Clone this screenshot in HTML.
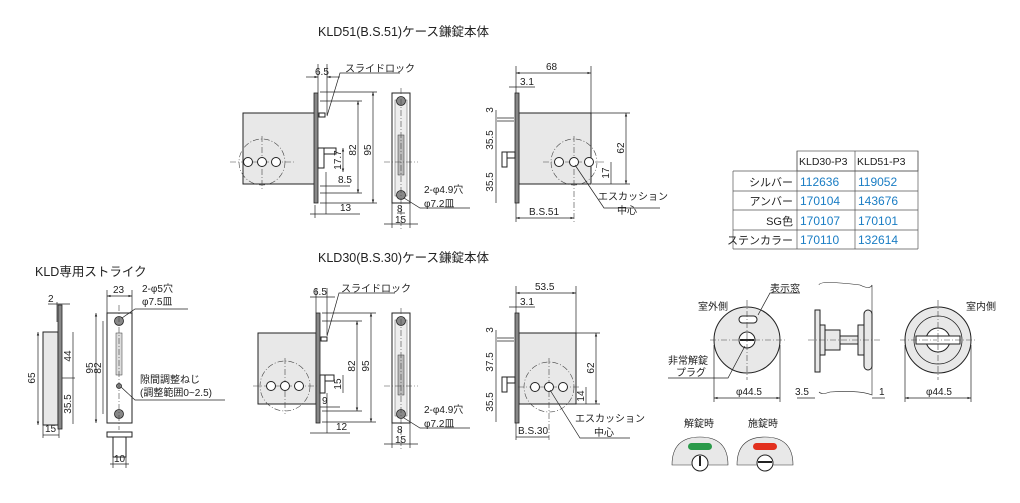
<!DOCTYPE html>
<html><head><meta charset="utf-8"><style>
html,body{margin:0;padding:0;background:#fff;}
svg{display:block;font-family:"Liberation Sans","Noto Sans CJK JP",sans-serif;}
.t{font-size:10px;fill:#222}
.h{font-size:12.5px;fill:#222}
.b{fill:#e8e8e8;stroke:#222;stroke-width:1}
.l{stroke:#222;stroke-width:0.7;fill:none}
.c{stroke:#444;stroke-width:0.6;fill:none;stroke-dasharray:6 2 1 2}
.w{fill:#fff;stroke:#222;stroke-width:1}
.p{fill:#888;stroke:#222;stroke-width:0.8}
</style></head><body>
<svg width="1020" height="503" viewBox="0 0 1020 503">
<defs>
<marker id="a" viewBox="0 0 6 6" refX="6" refY="3" markerWidth="5" markerHeight="5" orient="auto-start-reverse"><path d="M0,1 L6,3 L0,5z" fill="#222"/></marker>
<g id="front51">
</g>
</defs>

<text x="318" y="36" class="h">KLD51(B.S.51)ケース鎌錠本体</text>
<text x="318" y="262" class="h">KLD30(B.S.30)ケース鎌錠本体</text>
<text x="35" y="276" class="h">KLD専用ストライク</text>

<!-- ===== TOP FRONT ===== -->
<rect x="243" y="113" width="72" height="71" class="b"/>
<rect x="314" y="93" width="4" height="110" class="p"/>
<circle cx="262" cy="162" r="23" class="c"/>
<line x1="230" y1="162" x2="296" y2="162" class="c"/><line x1="262" y1="136" x2="262" y2="190" class="c"/>
<circle cx="248" cy="162" r="4.5" class="w"/><circle cx="262" cy="162" r="4.5" class="w"/><circle cx="276" cy="162" r="4.5" class="w"/>
<rect x="318" y="148" width="18" height="6" class="w"/><rect x="318" y="148" width="6" height="20" class="w"/>
<rect x="319" y="113" width="6" height="4" class="w"/>
<line x1="318" y1="64" x2="318" y2="93" class="l"/><line x1="327" y1="64" x2="327" y2="115" class="l"/>
<line x1="306" y1="77" x2="318" y2="77" class="l" marker-end="url(#a)"/><line x1="340" y1="77" x2="327" y2="77" class="l" marker-end="url(#a)"/>
<text x="315" y="75" class="t">6.5</text>
<polyline points="327,116 340,73 400,73" class="l"/><text x="345" y="72" class="t">スライドロック</text>
<line x1="320" y1="101" x2="362" y2="101" class="l"/><line x1="320" y1="193" x2="362" y2="193" class="l"/>
<line x1="358" y1="101" x2="358" y2="193" class="l" marker-start="url(#a)" marker-end="url(#a)"/>
<text x="356" y="150" class="t" transform="rotate(-90 356 150)" text-anchor="middle">82</text>
<line x1="320" y1="92" x2="377" y2="92" class="l"/><line x1="320" y1="203" x2="377" y2="203" class="l"/>
<line x1="373" y1="92" x2="373" y2="203" class="l" marker-start="url(#a)" marker-end="url(#a)"/>
<text x="371" y="150" class="t" transform="rotate(-90 371 150)" text-anchor="middle">95</text>
<line x1="343" y1="148" x2="343" y2="172" class="l" marker-start="url(#a)" marker-end="url(#a)"/>
<text x="341" y="160" class="t" transform="rotate(-90 341 160)" text-anchor="middle">17.7</text>
<line x1="320" y1="186" x2="350" y2="186" class="l"/><text x="338" y="183" class="t">8.5</text>
<line x1="326" y1="172" x2="326" y2="214" class="l"/>
<line x1="310" y1="214" x2="360" y2="214" class="l"/><line x1="315" y1="205" x2="315" y2="218" class="l"/>
<text x="340" y="211" class="t">13</text>
<!-- top side strip -->
<rect x="392" y="93" width="18" height="110" class="w"/>
<rect x="395" y="100" width="12" height="96" fill="#eee" stroke="#555" stroke-width="0.5"/>
<circle cx="401" cy="101" r="4.5" class="p"/><circle cx="401" cy="195" r="4.5" class="p"/>
<rect x="398" y="135" width="6" height="40" fill="#bbb" stroke="#333" stroke-width="0.5"/>
<line x1="384" y1="162" x2="418" y2="162" class="c"/><line x1="401" y1="88" x2="401" y2="230" class="c"/>
<line x1="392" y1="203" x2="392" y2="228" class="l"/><line x1="410" y1="203" x2="410" y2="228" class="l"/>
<line x1="397" y1="213" x2="405" y2="213" class="l"/><text x="397" y="212" class="t">8</text>
<line x1="384" y1="224" x2="418" y2="224" class="l"/><text x="395" y="223" class="t">15</text>
<polyline points="404,198 420,208 470,208" class="l"/>
<text x="424" y="193" class="t">2-φ4.9穴</text><text x="424" y="207" class="t">φ7.2皿</text>
<!-- top right -->
<rect x="519" y="113" width="72" height="71" class="b"/>
<rect x="515" y="93" width="4" height="110" class="p"/>
<circle cx="574" cy="162" r="23" class="c"/>
<line x1="543" y1="162" x2="605" y2="162" class="c"/><line x1="574" y1="136" x2="574" y2="222" class="c"/>
<circle cx="559" cy="162" r="4.5" class="w"/><circle cx="574" cy="162" r="4.5" class="w"/><circle cx="589" cy="162" r="4.5" class="w"/>
<rect x="502" y="152" width="13" height="6" class="w"/><rect x="502" y="152" width="5" height="15" class="w"/>
<line x1="497" y1="118" x2="514" y2="118" class="l"/><line x1="497" y1="121" x2="514" y2="121" class="l"/>
<line x1="516" y1="66" x2="516" y2="93" class="l"/><line x1="591" y1="66" x2="591" y2="113" class="l"/>
<line x1="516" y1="73" x2="591" y2="73" class="l" marker-start="url(#a)" marker-end="url(#a)"/><text x="546" y="70" class="t">68</text>
<line x1="509" y1="87" x2="535" y2="87" class="l"/><text x="520" y="85" class="t">3.1</text>
<line x1="496" y1="110" x2="496" y2="203" class="l"/>
<text x="493" y="110" class="t" transform="rotate(-90 493 110)" text-anchor="middle">3</text>
<text x="493" y="140" class="t" transform="rotate(-90 493 140)" text-anchor="middle">35.5</text>
<text x="493" y="182" class="t" transform="rotate(-90 493 182)" text-anchor="middle">35.5</text>
<line x1="591" y1="113" x2="630" y2="113" class="l"/><line x1="592" y1="184" x2="630" y2="184" class="l"/>
<line x1="626" y1="113" x2="626" y2="184" class="l" marker-start="url(#a)" marker-end="url(#a)"/>
<text x="624" y="148" class="t" transform="rotate(-90 624 148)" text-anchor="middle">62</text>
<line x1="611" y1="162" x2="611" y2="184" class="l"/>
<text x="609" y="173" class="t" transform="rotate(-90 609 173)" text-anchor="middle">17</text>
<line x1="516" y1="203" x2="516" y2="222" class="l"/>
<line x1="516" y1="218" x2="574" y2="218" class="l" marker-start="url(#a)" marker-end="url(#a)"/><text x="529" y="215" class="t">B.S.51</text>
<polyline points="575,165 604,208 660,208" class="l"/>
<text x="598" y="200" class="t">エスカッション</text><text x="617" y="214" class="t">中心</text>

<!-- ===== BOTTOM FRONT ===== -->
<rect x="258" y="333" width="58" height="71" class="b"/>
<rect x="316" y="313" width="4" height="110" class="p"/>
<circle cx="285" cy="386" r="25" class="c"/>
<line x1="253" y1="386" x2="318" y2="386" class="c"/><line x1="285" y1="358" x2="285" y2="414" class="c"/>
<circle cx="271" cy="386" r="4.5" class="w"/><circle cx="285" cy="386" r="4.5" class="w"/><circle cx="299" cy="386" r="4.5" class="w"/>
<rect x="320" y="375" width="14" height="6" class="w"/><rect x="320" y="375" width="5" height="18" class="w"/>
<rect x="321" y="337" width="6" height="4" class="w"/>
<line x1="316" y1="288" x2="316" y2="313" class="l"/><line x1="327" y1="288" x2="327" y2="335" class="l"/>
<line x1="310" y1="297" x2="335" y2="297" class="l"/><text x="313" y="295" class="t">6.5</text>
<polyline points="327,336 339,293 395,293" class="l"/><text x="341" y="292" class="t">スライドロック</text>
<line x1="322" y1="321" x2="362" y2="321" class="l"/><line x1="322" y1="411" x2="362" y2="411" class="l"/>
<line x1="357" y1="321" x2="357" y2="411" class="l" marker-start="url(#a)" marker-end="url(#a)"/>
<text x="355" y="366" class="t" transform="rotate(-90 355 366)" text-anchor="middle">82</text>
<line x1="322" y1="313" x2="376" y2="313" class="l"/><line x1="322" y1="422" x2="376" y2="422" class="l"/>
<line x1="371" y1="313" x2="371" y2="422" class="l" marker-start="url(#a)" marker-end="url(#a)"/>
<text x="369" y="366" class="t" transform="rotate(-90 369 366)" text-anchor="middle">95</text>
<line x1="343" y1="375" x2="343" y2="393" class="l"/>
<text x="341" y="384" class="t" transform="rotate(-90 341 384)" text-anchor="middle">15</text>
<line x1="320" y1="407" x2="340" y2="407" class="l"/><text x="322" y="404" class="t">9</text>
<line x1="327" y1="393" x2="327" y2="433" class="l"/>
<line x1="310" y1="433" x2="350" y2="433" class="l"/><text x="336" y="430" class="t">12</text>
<!-- bottom side strip -->
<rect x="392" y="313" width="18" height="110" class="w"/>
<rect x="395" y="320" width="12" height="96" fill="#eee" stroke="#555" stroke-width="0.5"/>
<circle cx="401" cy="321" r="4.5" class="p"/><circle cx="401" cy="414" r="4.5" class="p"/>
<rect x="398" y="355" width="6" height="40" fill="#bbb" stroke="#333" stroke-width="0.5"/>
<line x1="384" y1="386" x2="418" y2="386" class="c"/><line x1="401" y1="308" x2="401" y2="450" class="c"/>
<line x1="392" y1="423" x2="392" y2="448" class="l"/><line x1="410" y1="423" x2="410" y2="448" class="l"/>
<text x="397" y="433" class="t">8</text>
<line x1="384" y1="444" x2="418" y2="444" class="l"/><text x="395" y="443" class="t">15</text>
<polyline points="404,418 420,428 470,428" class="l"/>
<text x="424" y="413" class="t">2-φ4.9穴</text><text x="424" y="427" class="t">φ7.2皿</text>
<!-- bottom right -->
<rect x="519" y="333" width="57" height="71" class="b"/>
<rect x="515" y="313" width="4" height="110" class="p"/>
<circle cx="549" cy="387" r="25" class="c"/>
<line x1="518" y1="387" x2="580" y2="387" class="c"/><line x1="549" y1="358" x2="549" y2="440" class="c"/>
<circle cx="535" cy="387" r="4.5" class="w"/><circle cx="549" cy="387" r="4.5" class="w"/><circle cx="563" cy="387" r="4.5" class="w"/>
<rect x="502" y="377" width="13" height="6" class="w"/><rect x="502" y="377" width="5" height="15" class="w"/>
<line x1="497" y1="338" x2="514" y2="338" class="l"/><line x1="497" y1="341" x2="514" y2="341" class="l"/>
<line x1="516" y1="286" x2="516" y2="313" class="l"/><line x1="576" y1="286" x2="576" y2="333" class="l"/>
<line x1="516" y1="293" x2="576" y2="293" class="l" marker-start="url(#a)" marker-end="url(#a)"/><text x="535" y="290" class="t">53.5</text>
<line x1="509" y1="307" x2="535" y2="307" class="l"/><text x="520" y="305" class="t">3.1</text>
<line x1="496" y1="330" x2="496" y2="422" class="l"/>
<text x="493" y="330" class="t" transform="rotate(-90 493 330)" text-anchor="middle">3</text>
<text x="493" y="362" class="t" transform="rotate(-90 493 362)" text-anchor="middle">37.5</text>
<text x="493" y="402" class="t" transform="rotate(-90 493 402)" text-anchor="middle">35.5</text>
<line x1="576" y1="333" x2="600" y2="333" class="l"/><line x1="576" y1="404" x2="600" y2="404" class="l"/>
<line x1="596" y1="333" x2="596" y2="404" class="l" marker-start="url(#a)" marker-end="url(#a)"/>
<text x="594" y="368" class="t" transform="rotate(-90 594 368)" text-anchor="middle">62</text>
<line x1="586" y1="387" x2="586" y2="404" class="l"/>
<text x="584" y="396" class="t" transform="rotate(-90 584 396)" text-anchor="middle">14</text>
<line x1="516" y1="423" x2="516" y2="440" class="l"/>
<line x1="516" y1="437" x2="549" y2="437" class="l"/><text x="518" y="434" class="t">B.S.30</text>
<polyline points="550,390 580,438 630,438" class="l"/>
<text x="575" y="422" class="t">エスカッション</text><text x="594" y="436" class="t">中心</text>

<!-- ===== STRIKE ===== -->
<rect x="43" y="332" width="15" height="93" class="b"/>
<rect x="58" y="305" width="4" height="124" class="p"/>
<line x1="57" y1="302" x2="57" y2="322" class="l"/><line x1="48" y1="304" x2="70" y2="304" class="l"/>
<text x="48" y="302" class="t">2</text>
<line x1="38" y1="332" x2="38" y2="425" class="l" marker-start="url(#a)" marker-end="url(#a)"/>
<text x="35" y="378" class="t" transform="rotate(-90 35 378)" text-anchor="middle">65</text>
<line x1="62" y1="378" x2="75" y2="378" class="l"/>
<line x1="73" y1="332" x2="73" y2="424" class="l"/>
<text x="71" y="356" class="t" transform="rotate(-90 71 356)" text-anchor="middle">44</text>
<text x="71" y="404" class="t" transform="rotate(-90 71 404)" text-anchor="middle">35.5</text>
<line x1="43" y1="425" x2="43" y2="438" class="l"/><line x1="59" y1="429" x2="59" y2="438" class="l"/>
<line x1="43" y1="435" x2="59" y2="435" class="l"/><text x="45" y="432" class="t">15</text>
<rect x="107" y="313" width="25" height="110" class="w"/>
<circle cx="119" cy="321" r="4.5" class="p"/><circle cx="119" cy="414" r="4.5" class="p"/><circle cx="119" cy="386" r="2.5" class="p"/>
<rect x="116" y="333" width="6" height="42" fill="#ddd" stroke="#333" stroke-width="0.5"/>
<line x1="119" y1="305" x2="119" y2="430" class="c"/>
<line x1="107" y1="290" x2="107" y2="313" class="l"/><line x1="132" y1="290" x2="132" y2="313" class="l"/>
<line x1="107" y1="296" x2="132" y2="296" class="l" marker-start="url(#a)" marker-end="url(#a)"/><text x="113" y="293" class="t">23</text>
<line x1="96" y1="313" x2="96" y2="423" class="l" marker-start="url(#a)" marker-end="url(#a)"/>
<text x="93" y="368" class="t" transform="rotate(-90 93 368)" text-anchor="middle">95</text>
<line x1="103" y1="321" x2="103" y2="414" class="l"/>
<text x="101" y="368" class="t" transform="rotate(-90 101 368)" text-anchor="middle">82</text>
<text x="142" y="292" class="t">2-φ5穴</text><text x="142" y="305" class="t">φ7.5皿</text>
<polyline points="122,318 135,309 188,309" class="l"/>
<text x="140" y="383" class="t">隙間調整ねじ</text><text x="140" y="396" class="t">(調整範囲0~2.5)</text>
<polyline points="121,387 135,400 225,400" class="l"/>
<rect x="107" y="432" width="25" height="5" class="w"/><rect x="113" y="437" width="13" height="20" class="w"/>
<line x1="113" y1="457" x2="113" y2="468" class="l"/><line x1="126" y1="457" x2="126" y2="468" class="l"/>
<line x1="110" y1="464" x2="129" y2="464" class="l"/><text x="114" y="462" class="t">10</text>

<!-- ===== TABLE ===== -->
<g font-size="11" fill="#222">
<rect x="797" y="151" width="121" height="20" fill="none" stroke="#555" stroke-width="0.7"/>
<line x1="733" y1="171" x2="918" y2="171" stroke="#555" stroke-width="0.7"/>
<line x1="733" y1="191" x2="918" y2="191" stroke="#555" stroke-width="0.7"/>
<line x1="733" y1="210" x2="918" y2="210" stroke="#555" stroke-width="0.7"/>
<line x1="733" y1="230" x2="918" y2="230" stroke="#555" stroke-width="0.7"/>
<line x1="733" y1="249" x2="918" y2="249" stroke="#555" stroke-width="0.7"/>
<line x1="733" y1="171" x2="733" y2="249" stroke="#555" stroke-width="0.7"/>
<line x1="797" y1="151" x2="797" y2="249" stroke="#555" stroke-width="0.7"/>
<line x1="855" y1="151" x2="855" y2="249" stroke="#555" stroke-width="0.7"/>
<line x1="918" y1="151" x2="918" y2="249" stroke="#555" stroke-width="0.7"/>
<text x="799" y="165" font-size="10.5">KLD30-P3</text><text x="857" y="165" font-size="10.5">KLD51-P3</text>
<text x="793" y="186" text-anchor="end">シルバー</text><text x="793" y="205" text-anchor="end">アンバー</text>
<text x="793" y="225" text-anchor="end">SG色</text><text x="793" y="244" text-anchor="end">ステンカラー</text>
<g fill="#1a7dc4" font-size="12">
<text x="800" y="186">112636</text><text x="858" y="186">119052</text>
<text x="800" y="205">170104</text><text x="858" y="205">143676</text>
<text x="800" y="225">170107</text><text x="858" y="225">170101</text>
<text x="800" y="244">170110</text><text x="858" y="244">132614</text>
</g></g>

<!-- ===== ESCUTCHEON ===== -->
<circle cx="747" cy="340" r="33" class="b"/>
<rect x="739" y="316" width="18" height="7" rx="3.5" class="w"/>
<circle cx="747" cy="340" r="8" class="w"/><line x1="740" y1="340" x2="754" y2="340" stroke="#222" stroke-width="2"/>
<line x1="710" y1="340" x2="785" y2="340" class="c"/><line x1="747" y1="300" x2="747" y2="380" class="c"/>
<line x1="714" y1="345" x2="714" y2="402" class="l"/><line x1="780" y1="345" x2="780" y2="402" class="l"/>
<line x1="714" y1="398" x2="780" y2="398" class="l" marker-start="url(#a)" marker-end="url(#a)"/><text x="736" y="395" class="t">φ44.5</text>
<text x="698" y="310" class="t">室外側</text>
<polyline points="758,315 770,293 800,293" class="l"/><text x="770" y="292" class="t">表示窓</text>
<text x="668" y="364" class="t" font-size="9">非常解錠</text><text x="676" y="376" class="t" font-size="9">プラグ</text>
<polyline points="668,378 728,378 745,346" class="l"/>
<!-- side -->
<path d="M819,285 Q819,280 860,285 Q870,290 872,285 L872,395 Q860,390 830,392 Q822,395 819,392" fill="none" stroke="#222" stroke-width="0.6"/>
<rect x="815" y="310" width="5" height="62" class="b"/><rect x="820" y="325" width="5" height="30" class="b"/>
<rect x="825" y="330" width="15" height="20" class="b"/><rect x="840" y="336" width="22" height="8" class="b"/>
<rect x="858" y="325" width="6" height="30" class="b"/><rect x="864" y="310" width="8" height="60" rx="4" class="b"/>
<line x1="808" y1="340" x2="880" y2="340" class="c"/>
<line x1="797" y1="398" x2="815" y2="398" class="l"/><line x1="872" y1="398" x2="885" y2="398" class="l"/>
<text x="795" y="395" class="t">3.5</text><text x="879" y="395" class="t">1</text>
<!-- inside -->
<circle cx="938" cy="340" r="33" class="b"/><circle cx="938" cy="340" r="24" fill="none" stroke="#222" stroke-width="0.8"/>
<circle cx="938" cy="340" r="12" class="w"/><rect x="916" y="336" width="44" height="8" class="w"/>
<line x1="900" y1="340" x2="977" y2="340" class="c"/><line x1="938" y1="300" x2="938" y2="380" class="c"/>
<line x1="905" y1="345" x2="905" y2="402" class="l"/><line x1="971" y1="345" x2="971" y2="402" class="l"/>
<line x1="905" y1="398" x2="971" y2="398" class="l" marker-start="url(#a)" marker-end="url(#a)"/><text x="926" y="395" class="t">φ44.5</text>
<text x="966" y="310" class="t">室内側</text>
<!-- indicators -->
<text x="684" y="427" class="t">解錠時</text><text x="748" y="427" class="t">施錠時</text>
<path d="M672,465 Q672,437 700,437 Q728,437 728,465z" fill="#e8e8e8" stroke="#333" stroke-width="0.6"/>
<rect x="688" y="443" width="24" height="7" rx="3.5" fill="#2a9a4a"/>
<circle cx="700" cy="463" r="8" fill="#fff" stroke="#222"/><line x1="700" y1="456" x2="700" y2="466" stroke="#222" stroke-width="2"/>
<path d="M737,465 Q737,437 765,437 Q793,437 793,465z" fill="#e8e8e8" stroke="#333" stroke-width="0.6"/>
<rect x="753" y="443" width="24" height="7" rx="3.5" fill="#e2301e"/>
<circle cx="765" cy="463" r="8" fill="#fff" stroke="#222"/><line x1="758" y1="462" x2="772" y2="462" stroke="#222" stroke-width="2"/>
</svg>
</body></html>
